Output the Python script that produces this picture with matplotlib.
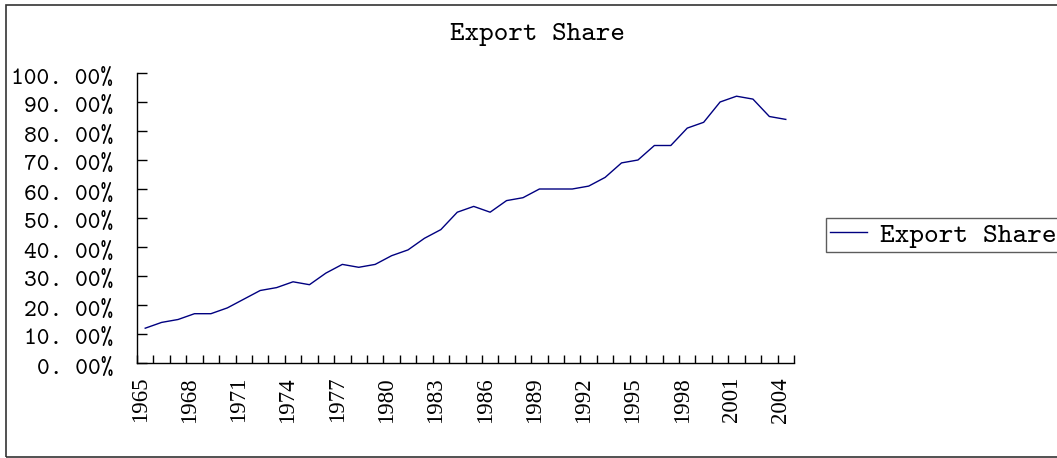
import matplotlib
matplotlib.use("Agg")
import matplotlib.pyplot as plt
from matplotlib.patches import Rectangle
from matplotlib.ticker import FixedLocator
from matplotlib.transforms import ScaledTranslation

years = list(range(1965, 2005))
export_share = [12, 14, 15, 17, 17, 19, 22, 25, 26, 28,
                27, 31, 34, 33, 34, 37, 39, 43, 46, 52,
                54, 52, 56, 57, 60, 60, 60, 61, 64, 69,
                70, 75, 75, 81, 83, 90, 92, 91, 85, 84]
y_ticks = [0, 10, 20, 30, 40, 50, 60, 70, 80, 90, 100]
y_tick_labels = ["0. 00%", "10. 00%", "20. 00%", "30. 00%", "40. 00%", "50. 00%",
                 "60. 00%", "70. 00%", "80. 00%", "90. 00%", "100. 00%"]
title = "Export Share"
series_name = "Export Share"

W, H = 1057, 458
fig = plt.figure(figsize=(W / 100, H / 100), dpi=100)
ax = fig.add_axes([137 / W, 95 / H, (794 - 137) / W, (363 - 73) / H])

x = list(range(len(years)))
line, = ax.plot(x, export_share, color="#000080", lw=1.0, label=series_name)

ax.set_xlim(-0.5, len(years) - 0.5)
ax.set_ylim(0, 100)
for s in ["top", "right"]:
    ax.spines[s].set_visible(False)
for s in ["left", "bottom"]:
    ax.spines[s].set_linewidth(1.0)
    ax.spines[s].set_color("black")

mono = ["cmtt10", "DejaVu Sans Mono"]
serif = "Liberation Serif"

ax.set_yticks(y_ticks)
ax.set_yticklabels(y_tick_labels, fontfamily=mono, fontsize=17.5)
ax.tick_params(axis="y", direction="in", length=7, width=1, pad=17)
for lab in ax.get_yticklabels():
    lab.set_transform(lab.get_transform() + ScaledTranslation(0, -3 / 100, fig.dpi_scale_trans))

label_pos = [i for i, yv in enumerate(years) if (yv - 1965) % 3 == 0]
ax.set_xticks(label_pos)
ax.set_xticklabels([str(years[i]) for i in label_pos], rotation=90,
                   fontfamily=serif, fontsize=16.5)
ax.tick_params(axis="x", which="major", length=0, pad=10)
for lab in ax.get_xticklabels():
    lab.set_transform(lab.get_transform() + ScaledTranslation(-5 / 100, 0, fig.dpi_scale_trans))
ax.xaxis.set_minor_locator(FixedLocator([i - 0.5 for i in range(len(years) + 1)]))
ax.tick_params(axis="x", which="minor", direction="in", length=6, width=1)

fig.text(537 / W, 1 - 35 / H, title, ha="center", va="center",
         fontfamily=mono, fontsize=20)

leg = fig.legend(handles=[line], loc="center left",
                 bbox_to_anchor=(826 / W, 1 - 235 / H),
                 prop={"family": mono, "size": 20.2},
                 frameon=True, fancybox=False, borderpad=0.15,
                 handlelength=1.3, handletextpad=0.46, borderaxespad=0)
leg.get_frame().set_edgecolor("#333333")
leg.get_frame().set_linewidth(1.0)

fig.patches.append(Rectangle((6 / W, 1 / H), 1.2, (457 - 5) / H,
                             transform=fig.transFigure, fill=False,
                             edgecolor="#333333", lw=1.2))

fig.savefig("out.png", dpi=100)
